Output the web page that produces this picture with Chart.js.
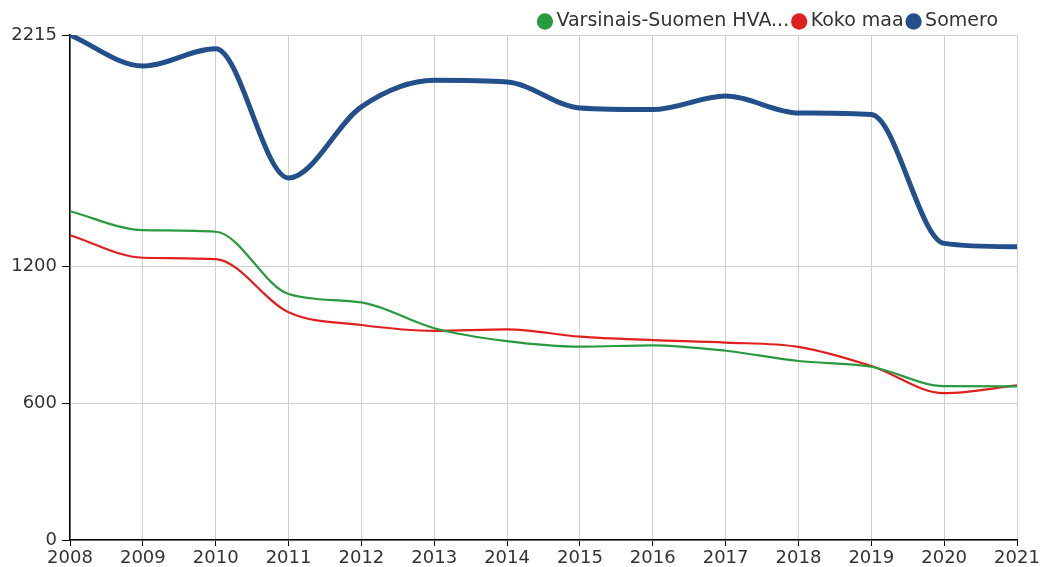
<!DOCTYPE html>
<html>
<head>
<meta charset="utf-8">
<script src="https://cdn.jsdelivr.net/npm/chart.js@4/dist/chart.umd.min.js"></script>
<style>
  html, body { margin: 0; padding: 0; background: #fff; }
  #wrap { width: 1042px; height: 567px; position: relative; }
</style>
</head>
<body>
<div id="wrap"><canvas id="c" width="1042" height="567"></canvas></div>
<script>
const years = ['2008','2009','2010','2011','2012','2013','2014','2015','2016','2017','2018','2019','2020','2021'];
const varsinaisSuomi = [1442, 1359, 1352, 1079, 1042, 929, 872, 848, 854, 830, 785, 760, 675, 674];
const kokoMaa = [1337, 1238, 1232, 999, 943, 917, 924, 892, 877, 866, 847, 763, 644, 678];
const somero = [2215, 2079, 2155, 1588, 1900, 2016, 2009, 1895, 1888, 1947, 1873, 1866, 1301, 1286];
const yTicks = [0, 600, 1200, 2215];
const seriesNames = ['Varsinais-Suomen HVA...', 'Koko maa', 'Somero'];

Chart.defaults.font.family = '"DejaVu Sans", sans-serif';
Chart.defaults.font.size = 18;
Chart.defaults.color = '#333';

const colors = ['#2a9a3f', '#e0201e', '#234f8a'];

const legendShift = {
  id: 'legendShift',
  afterLayout(chart) {
    if (chart.legend) {
      chart.legend.right -= 11;
      chart.legend.top += 4;
    }
  }
};

new Chart(document.getElementById('c'), {
  type: 'line',
  data: {
    labels: years,
    datasets: [
      { label: seriesNames[0], data: varsinaisSuomi, borderColor: colors[0], backgroundColor: colors[0], borderWidth: 2.2 },
      { label: seriesNames[1], data: kokoMaa, borderColor: colors[1], backgroundColor: colors[1], borderWidth: 2.2 },
      { label: seriesNames[2], data: somero, borderColor: colors[2], backgroundColor: colors[2], borderWidth: 5 }
    ]
  },
  plugins: [legendShift],
  options: {
    responsive: false,
    animation: false,
    layout: { padding: { left: 0, right: 25, top: 0, bottom: 0 } },
    elements: {
      point: { radius: 0, hoverRadius: 0 },
      line: { cubicInterpolationMode: 'monotone', fill: false }
    },
    plugins: {
      tooltip: { enabled: false },
      legend: {
        position: 'top',
        align: 'end',
        maxHeight: 35,
        labels: {
          usePointStyle: true,
          pointStyle: 'circle',
          boxWidth: 4,
          boxHeight: 11.5,
          padding: 8,
          color: '#333',
          font: { size: 19 },
          generateLabels: (chart) => chart.data.datasets.map((ds, i) => ({
            text: ds.label,
            fillStyle: ds.borderColor,
            strokeStyle: ds.borderColor,
            lineWidth: 0,
            pointStyle: 'circle',
            hidden: false,
            datasetIndex: i,
            fontColor: '#333'
          }))
        }
      }
    },
    scales: {
      x: {
        type: 'category',
        offset: false,
        grid: { color: '#d0d0d0', lineWidth: 1, tickLength: 6, tickColor: '#000' },
        border: { color: '#000', width: 1.5 },
        ticks: { padding: 2, maxRotation: 0, autoSkip: false, color: '#333' },
        afterFit: (s) => { s.height = 27; }
      },
      y: {
        min: 0,
        max: 2215,
        grid: { color: '#d0d0d0', lineWidth: 1, tickLength: 8, tickColor: '#000' },
        border: { color: '#000', width: 1.5 },
        ticks: { padding: 5, color: '#333', callback: (v) => String(v) },
        afterBuildTicks: (s) => { s.ticks = yTicks.map(v => ({ value: v })); },
        afterFit: (s) => { s.width = 70; }
      }
    }
  }
});
</script>
</body>
</html>
